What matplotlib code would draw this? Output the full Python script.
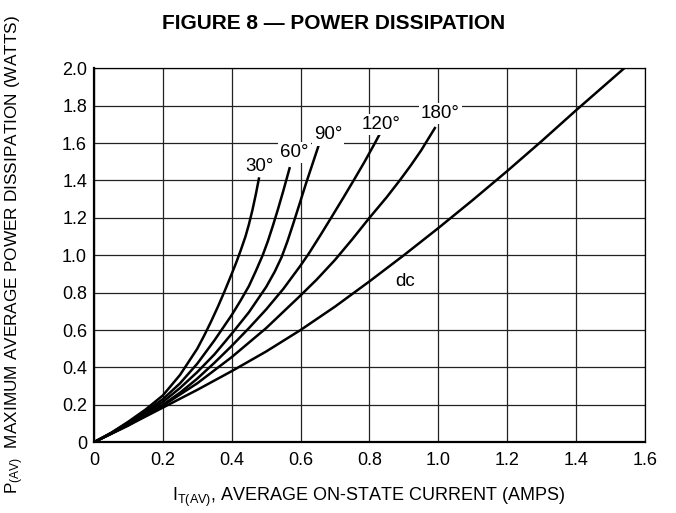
# power dissipation vs average on-state current, redrawn from the data sheet figure
import matplotlib as mpl
mpl.use('Agg')
import numpy as np
import matplotlib.pyplot as plt

plt.rcParams['font.family'] = ['Liberation Sans Narrow', 'Liberation Sans', 'DejaVu Sans']
plt.rcParams['mathtext.fontset'] = 'custom'
plt.rcParams['mathtext.rm'] = 'Liberation Sans'
plt.rcParams['mathtext.it'] = 'Liberation Sans'

# curves (amps, watts)
x_30 = [0, 0.05, 0.1, 0.15, 0.2, 0.25, 0.3, 0.32, 0.34, 0.36, 0.38, 0.4,
        0.413, 0.426, 0.44, 0.45, 0.46, 0.47, 0.479]
y_30 = [0, 0.05, 0.11, 0.175, 0.25, 0.36, 0.5, 0.57, 0.645, 0.725, 0.81, 0.9,
        0.96, 1.025, 1.1, 1.165, 1.24, 1.325, 1.41]

x_60 = [0, 0.05, 0.1, 0.15, 0.2, 0.25, 0.3, 0.35, 0.4, 0.425, 0.45, 0.47,
        0.49, 0.505, 0.52, 0.535, 0.55, 0.568]
y_60 = [0, 0.05, 0.105, 0.165, 0.23, 0.315, 0.42, 0.545, 0.68, 0.755, 0.835, 0.915,
        1.0, 1.075, 1.16, 1.25, 1.345, 1.465]

x_90 = [0, 0.05, 0.1, 0.15, 0.2, 0.25, 0.3, 0.35, 0.4, 0.45, 0.5, 0.525,
        0.545, 0.562, 0.579, 0.598, 0.616, 0.635, 0.653]
y_90 = [0, 0.048, 0.1, 0.155, 0.215, 0.29, 0.375, 0.47, 0.58, 0.695, 0.83, 0.912,
        0.99, 1.075, 1.17, 1.28, 1.385, 1.49, 1.59]

x_120 = [0, 0.05, 0.1, 0.15, 0.2, 0.25, 0.3, 0.35, 0.4, 0.45, 0.5, 0.55,
         0.6, 0.625, 0.66, 0.695, 0.725, 0.758, 0.785, 0.813, 0.832]
y_120 = [0, 0.046, 0.095, 0.145, 0.2, 0.265, 0.34, 0.425, 0.515, 0.61, 0.71, 0.82,
         0.945, 1.012, 1.114, 1.219, 1.31, 1.412, 1.497, 1.59, 1.655]

x_180 = [0, 0.1, 0.2, 0.3, 0.4, 0.5, 0.6, 0.647, 0.7, 0.75, 0.8, 0.85,
         0.888, 0.92, 0.95, 0.99]
y_180 = [0, 0.09, 0.195, 0.315, 0.455, 0.61, 0.785, 0.87, 0.975, 1.085, 1.2, 1.31,
         1.4, 1.48, 1.56, 1.68]

x_dc = [0, 0.1, 0.2, 0.3, 0.4, 0.5, 0.6, 0.7, 0.8, 0.9, 1.0, 1.1, 1.2, 1.3, 1.4, 1.54]
y_dc = [0, 0.09, 0.185, 0.28, 0.38, 0.485, 0.6, 0.725, 0.86, 1.0, 1.145, 1.295,
        1.45, 1.61, 1.775, 2.0]

curve_labels = ['30°', '60°', '90°', '120°', '180°', 'dc']
label_x = [0.482, 0.582, 0.68, 0.835, 1.005, 0.903]
label_y = [1.474, 1.55, 1.643, 1.697, 1.76, 0.862]

xticks = np.arange(0, 1.61, 0.2)
yticks = np.arange(0, 2.01, 0.2)
xtick_labels = ['0', '0.2', '0.4', '0.6', '0.8', '1.0', '1.2', '1.4', '1.6']
ytick_labels = ['0', '0.2', '0.4', '0.6', '0.8', '1.0', '1.2', '1.4', '1.6', '1.8', '2.0']

fig = plt.figure(figsize=(6.76, 5.13), dpi=100)
ax = fig.add_axes([0.139, 0.138, 0.815, 0.729])

for xs, ys in [(x_30, y_30), (x_60, y_60), (x_90, y_90),
               (x_120, y_120), (x_180, y_180), (x_dc, y_dc)]:
    ax.plot(xs, ys, c='black', linewidth=1.8, solid_joinstyle='round', zorder=3)

for i, lab in enumerate(curve_labels):
    if lab == 'dc':
        ax.text(label_x[i], label_y[i], lab, fontsize=13.5, ha='center', va='center', zorder=4)
    else:
        ax.text(label_x[i], label_y[i], lab, fontsize=13.5, ha='center', va='center', zorder=4,
                bbox=dict(facecolor='white', edgecolor='none', pad=1.5))

ax.set_xlim(0, 1.6)
ax.set_ylim(0, 2.0)
ax.set_xticks(xticks)
ax.set_xticklabels(xtick_labels)
ax.set_yticks(yticks)
ax.set_yticklabels(ytick_labels)
ax.tick_params(length=0, labelsize=13)
ax.tick_params(axis='x', pad=7)
ax.tick_params(axis='y', pad=5)
ax.grid(True, color='#222222', linewidth=0.9, zorder=1)
ax.set_axisbelow(True)
for side in ['left', 'bottom']:
    ax.spines[side].set_linewidth(1.6)
for side in ['top', 'right']:
    ax.spines[side].set_linewidth(0.9)

fig.text(0.494, 0.954, 'FIGURE 8 — POWER DISSIPATION', fontsize=15, fontweight='bold',
         family=['Liberation Sans', 'DejaVu Sans'], ha='center', va='center')
fig.text(0.546, 0.031, r'I$_{\mathrm{T(AV)}}$, AVERAGE ON-STATE CURRENT (AMPS)',
         fontsize=13, ha='center', va='center')
fig.text(0.022, 0.503, r'P$_{\mathrm{(AV)}}$  MAXIMUM AVERAGE POWER DISSIPATION (WATTS)',
         fontsize=12.4, ha='center', va='center', rotation=90)

plt.savefig('out.png', dpi=100, facecolor='w')
